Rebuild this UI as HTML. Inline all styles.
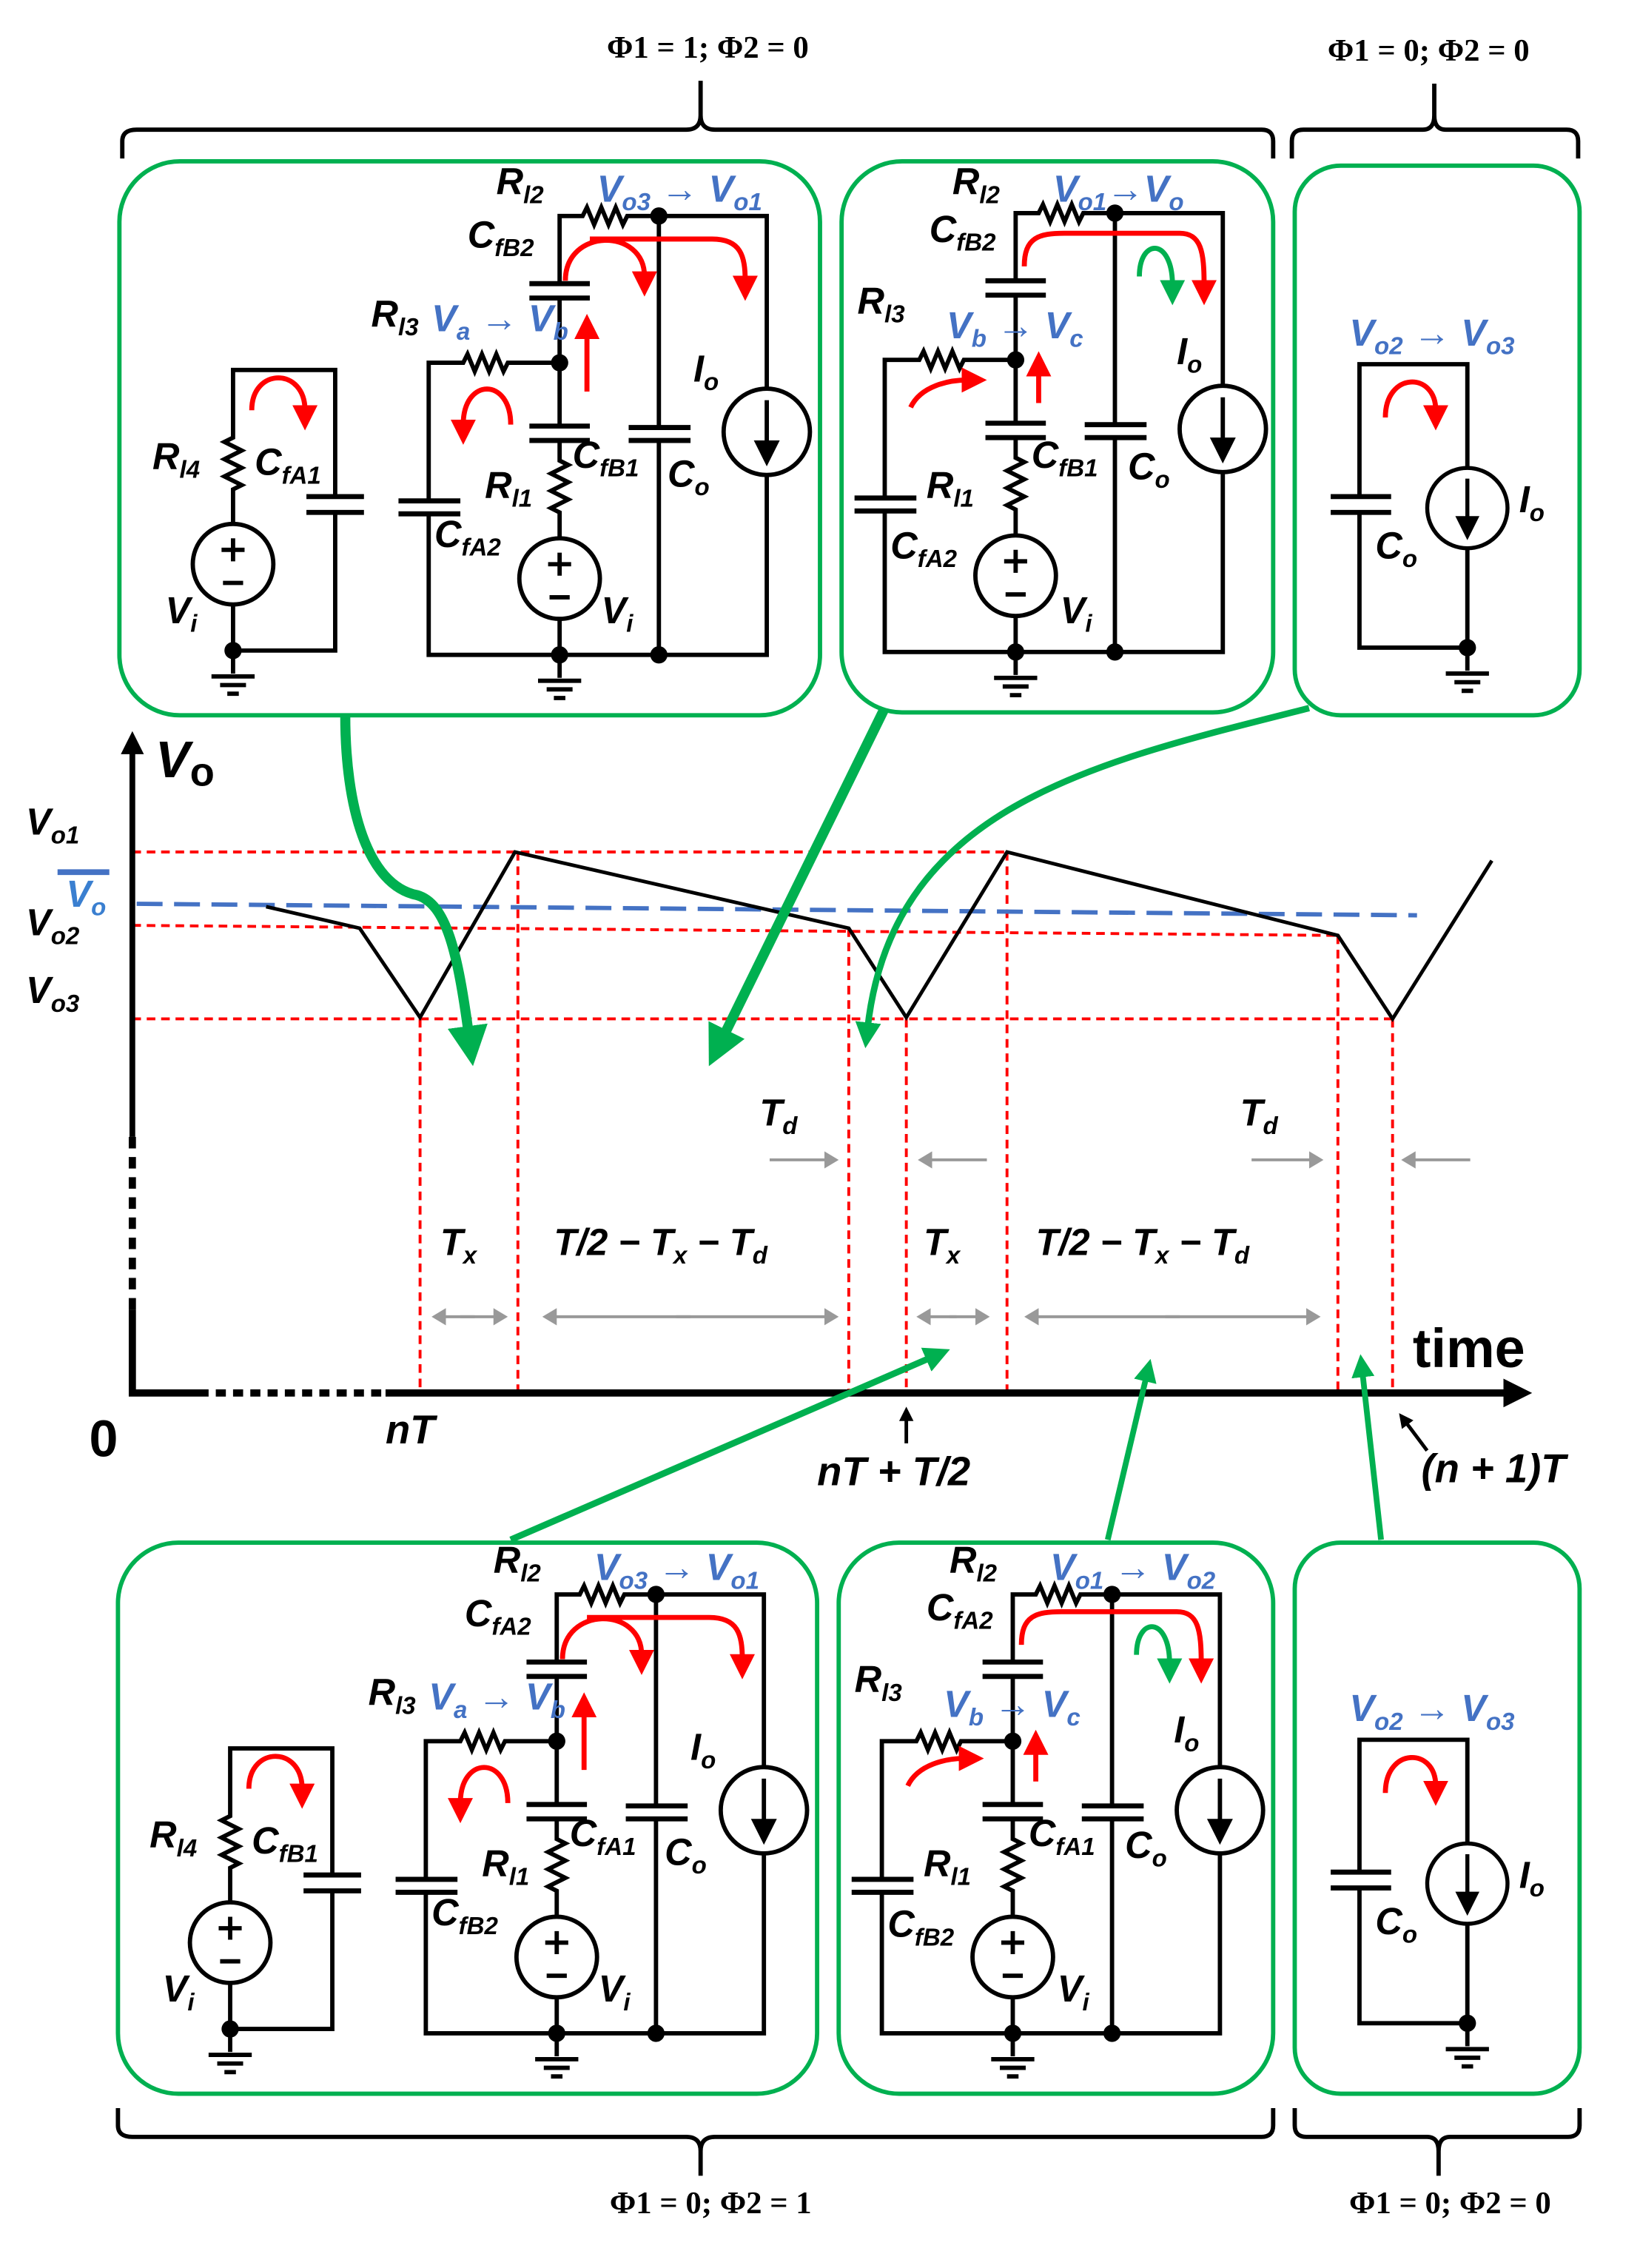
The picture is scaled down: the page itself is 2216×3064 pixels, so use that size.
<!DOCTYPE html>
<html><head><meta charset="utf-8"><style>
html,body{margin:0;padding:0;background:#fff}
svg{display:block}
.w{fill:none;stroke:#000;stroke-width:3}
.p{stroke:#000;stroke-width:3.5}
.l{font-family:"Liberation Sans",sans-serif;font-weight:bold;font-style:italic;font-size:26px;fill:#000}
.b{fill:#4472c4}
.s{font-size:17px}
.ph{font-family:"Liberation Serif",serif;font-weight:bold;font-size:22px}
.gb{fill:none;stroke:#00b050;stroke-width:3}
.ra{fill:none;stroke:#f00;stroke-width:3.5}
.ga{fill:none;stroke:#00b050;stroke-width:3.5}
.rd{fill:none;stroke:#f00;stroke-width:2;stroke-dasharray:6,4}
.gr{fill:none;stroke:#999;stroke-width:2}
</style></head><body>
<svg width="2216" height="3064" viewBox="0 0 1140 1576" xmlns="http://www.w3.org/2000/svg">
<defs>
<marker id="mr" markerWidth="5" markerHeight="5" refX="1" refY="2.5" orient="auto" markerUnits="strokeWidth"><path d="M0,0 L5,2.5 L0,5z" fill="#f00"/></marker>
<marker id="mg" markerWidth="5" markerHeight="5" refX="1" refY="2.5" orient="auto" markerUnits="strokeWidth"><path d="M0,0 L5,2.5 L0,5z" fill="#00b050"/></marker>
<marker id="mG" markerWidth="4" markerHeight="4" refX="1" refY="2" orient="auto" markerUnits="strokeWidth"><path d="M0,0 L4,2 L0,4z" fill="#00b050"/></marker>
<marker id="mgr" markerWidth="5" markerHeight="6" refX="1" refY="3" orient="auto" markerUnits="strokeWidth"><path d="M0,0 L5,3 L0,6z" fill="#999"/></marker>
<marker id="mk" markerWidth="4" markerHeight="4" refX="1" refY="2" orient="auto" markerUnits="strokeWidth"><path d="M0,0 L4,2 L0,4z" fill="#000"/></marker>
<g id="gnd"><path class="w" d="M0,0 V16 M-15,18 H15 M-9,24 H9 M-4,30 H4"/></g>
<g id="vs"><circle r="28" class="w" fill="#fff"/><path class="w" d="M-8,-10 H8 M0,-18 V-2 M-7,13 H7"/></g>
<g id="cs"><circle r="30" class="w" fill="#fff"/><path class="w" d="M0,-22 V10"/><path d="M-9,6 H9 L0,24z" fill="#000"/></g>
<g id="left">
<path class="w" d="M162,364 V340 l6,-3 l-12,-6 l12,-6 l-12,-6 l12,-6 l-12,-6 l6,-3 V257 H233 V345 M233,356 V452 H162 V420"/>
<path class="p" d="M213,345 H253 M213,356 H253"/>
<use href="#vs" x="162" y="392"/>
<circle cx="162" cy="452" r="6"/>
<use href="#gnd" x="162" y="452"/>
</g>
<g id="mid">
<path class="w" d="M298,348 V252 H322 l3,-6 l5,12 l5,-12 l5,12 l5,-12 l5,12 l3,-6 H389 V207 M389,197 V150 H405 l3,-6 l5,12 l5,-12 l5,12 l5,-12 l5,12 l3,-6 H533 V270 M533,330 V455 H298 V357 M389,252 V296 M389,306 V320 l6,3 l-12,6 l12,6 l-12,6 l12,6 l-12,6 l6,3 V374 M389,430 V455 M458,150 V297 M458,306 V455"/>
<path class="p" d="M277,348 H320 M277,357 H320 M368,197 H410 M368,207 H410 M368,296 H410 M368,306 H410 M437,297 H480 M437,306 H480"/>
<use href="#vs" x="389" y="402"/>
<use href="#cs" x="533" y="300"/>
<circle cx="389" cy="252" r="6"/><circle cx="458" cy="150" r="6"/><circle cx="389" cy="455" r="6"/><circle cx="458" cy="455" r="6"/>
<use href="#gnd" x="389" y="455"/>
</g>
<g id="co">
<path class="w" d="M945,345 V253 H1020 V325 M1020,381 V450 H945 V356"/>
<path class="p" d="M925,345 H967 M925,356 H967"/>
<use href="#cs" x="1020" y="353" transform="translate(1020,353) scale(0.93) translate(-1020,-353)"/>
<circle cx="1020" cy="450" r="6"/>
<use href="#gnd" x="1020" y="450"/>
<path class="ra" d="M963,290 C963,258 998,258 998,285" marker-end="url(#mr)"/>
</g>
<g id="ar1">
<path class="ra" d="M175,285 C175,255 212,255 212,285" marker-end="url(#mr)"/>
<path class="ra" d="M355,295 C355,262 322,262 322,295" marker-end="url(#mr)"/>
<path class="ra" d="M408,272 V232" marker-end="url(#mr)"/>
<path class="ra" d="M393,195 C393,158 448,158 448,192" marker-end="url(#mr)"/>
<path class="ra" d="M410,166 H495 C515,166 518,178 518,195" marker-end="url(#mr)"/>
</g>
<g id="ar2">
<path class="ra" d="M633,283 C640,268 660,264 672,264" marker-end="url(#mr)"/>
<path class="ra" d="M722,280 V258" marker-end="url(#mr)"/>
<path class="ra" d="M712,185 C712,165 722,162 740,162 H820 C835,162 837,175 837,198" marker-end="url(#mr)"/>
<path class="ga" d="M792,192 C792,165 815,165 815,198" marker-end="url(#mg)"/>
</g>
</defs>

<rect class="gb" x="83" y="112" width="487" height="385" rx="42"/>
<rect class="gb" x="585" y="112" width="300" height="383" rx="42"/>
<rect class="gb" x="900" y="115" width="198" height="382" rx="32"/>
<rect class="gb" x="82" y="1072" width="486" height="383" rx="42"/>
<rect class="gb" x="583" y="1072" width="302" height="383" rx="42"/>
<rect class="gb" x="900" y="1072" width="198" height="383" rx="32"/>

<path class="w" d="M85,110 V98 Q85,90 95,90 H477 Q487,90 487,80 V56 M487,80 Q487,90 497,90 H877 Q885,90 885,98 V110" stroke-width="2.5"/>
<path class="w" d="M898,110 V98 Q898,90 906,90 H989 Q997,90 997,80 V58 M997,80 Q997,90 1005,90 H1089 Q1097,90 1097,98 V110" stroke-width="2.5"/>
<path class="w" d="M82,1465 V1477 Q82,1485 92,1485 H477 Q487,1485 487,1495 V1512 M487,1495 Q487,1485 497,1485 H877 Q885,1485 885,1477 V1465" stroke-width="2.5"/>
<path class="w" d="M900,1465 V1477 Q900,1485 908,1485 H992 Q1000,1485 1000,1495 V1512 M1000,1495 Q1000,1485 1008,1485 H1090 Q1098,1485 1098,1477 V1465" stroke-width="2.5"/>
<text class="ph" x="492" y="40" text-anchor="middle">Φ1 = 1; Φ2 = 0</text>
<text class="ph" x="993" y="42" text-anchor="middle">Φ1 = 0; Φ2 = 0</text>
<text class="ph" x="494" y="1538" text-anchor="middle">Φ1 = 0; Φ2 = 1</text>
<text class="ph" x="1008" y="1538" text-anchor="middle">Φ1 = 0; Φ2 = 0</text>

<use href="#left"/><use href="#mid"/><use href="#ar1"/>
<use href="#mid" transform="translate(317,-2)"/><use href="#ar2"/>
<use href="#co"/>
<use href="#left" transform="translate(-2,958)"/><use href="#mid" transform="translate(-2,958)"/><use href="#ar1" transform="translate(-2,958)"/>
<use href="#mid" transform="translate(315,958)"/><use href="#ar2" transform="translate(-2,958)"/>
<use href="#co" transform="translate(0,956)"/>

<text class="l" x="345" y="135">R<tspan class="s" dy="6">l2</tspan></text>
<text class="l b" x="415" y="140">V<tspan class="s" dy="6">o3</tspan><tspan dy="-6"> → V</tspan><tspan class="s" dy="6">o1</tspan></text>
<text class="l" x="325" y="172">C<tspan class="s" dy="6">fB2</tspan></text>
<text class="l" x="258" y="227">R<tspan class="s" dy="6">l3</tspan></text>
<text class="l b" x="300" y="230">V<tspan class="s" dy="6">a</tspan><tspan dy="-6"> → V</tspan><tspan class="s" dy="6">b</tspan></text>
<text class="l" x="482" y="265">I<tspan class="s" dy="6">o</tspan></text>
<text class="l" x="106" y="326">R<tspan class="s" dy="6">l4</tspan></text>
<text class="l" x="177" y="330">C<tspan class="s" dy="6">fA1</tspan></text>
<text class="l" x="398" y="325">C<tspan class="s" dy="6">fB1</tspan></text>
<text class="l" x="464" y="338">C<tspan class="s" dy="6">o</tspan></text>
<text class="l" x="337" y="346">R<tspan class="s" dy="6">l1</tspan></text>
<text class="l" x="302" y="380">C<tspan class="s" dy="6">fA2</tspan></text>
<text class="l" x="115" y="433">V<tspan class="s" dy="6">i</tspan></text>
<text class="l" x="418" y="433">V<tspan class="s" dy="6">i</tspan></text>
<text class="l" x="662" y="135">R<tspan class="s" dy="6">l2</tspan></text>
<text class="l b" x="732" y="140">V<tspan class="s" dy="6">o1</tspan><tspan dy="-6">→V</tspan><tspan class="s" dy="6">o</tspan></text>
<text class="l" x="646" y="168">C<tspan class="s" dy="6">fB2</tspan></text>
<text class="l" x="596" y="218">R<tspan class="s" dy="6">l3</tspan></text>
<text class="l b" x="658" y="235">V<tspan class="s" dy="6">b</tspan><tspan dy="-6"> → V</tspan><tspan class="s" dy="6">c</tspan></text>
<text class="l" x="818" y="253">I<tspan class="s" dy="6">o</tspan></text>
<text class="l" x="717" y="325">C<tspan class="s" dy="6">fB1</tspan></text>
<text class="l" x="784" y="333">C<tspan class="s" dy="6">o</tspan></text>
<text class="l" x="644" y="346">R<tspan class="s" dy="6">l1</tspan></text>
<text class="l" x="619" y="388">C<tspan class="s" dy="6">fA2</tspan></text>
<text class="l" x="737" y="433">V<tspan class="s" dy="6">i</tspan></text>
<text class="l b" x="938" y="240">V<tspan class="s" dy="6">o2</tspan><tspan dy="-6"> → V</tspan><tspan class="s" dy="6">o3</tspan></text>
<text class="l" x="956" y="388">C<tspan class="s" dy="6">o</tspan></text>
<text class="l" x="1056" y="356">I<tspan class="s" dy="6">o</tspan></text>

<text class="l" x="343" y="1093">R<tspan class="s" dy="6">l2</tspan></text>
<text class="l b" x="413" y="1098">V<tspan class="s" dy="6">o3</tspan><tspan dy="-6"> → V</tspan><tspan class="s" dy="6">o1</tspan></text>
<text class="l" x="323" y="1130">C<tspan class="s" dy="6">fA2</tspan></text>
<text class="l" x="256" y="1185">R<tspan class="s" dy="6">l3</tspan></text>
<text class="l b" x="298" y="1188">V<tspan class="s" dy="6">a</tspan><tspan dy="-6"> → V</tspan><tspan class="s" dy="6">b</tspan></text>
<text class="l" x="480" y="1223">I<tspan class="s" dy="6">o</tspan></text>
<text class="l" x="104" y="1284">R<tspan class="s" dy="6">l4</tspan></text>
<text class="l" x="175" y="1288">C<tspan class="s" dy="6">fB1</tspan></text>
<text class="l" x="396" y="1283">C<tspan class="s" dy="6">fA1</tspan></text>
<text class="l" x="462" y="1296">C<tspan class="s" dy="6">o</tspan></text>
<text class="l" x="335" y="1304">R<tspan class="s" dy="6">l1</tspan></text>
<text class="l" x="300" y="1338">C<tspan class="s" dy="6">fB2</tspan></text>
<text class="l" x="113" y="1391">V<tspan class="s" dy="6">i</tspan></text>
<text class="l" x="416" y="1391">V<tspan class="s" dy="6">i</tspan></text>
<text class="l" x="660" y="1093">R<tspan class="s" dy="6">l2</tspan></text>
<text class="l b" x="730" y="1098">V<tspan class="s" dy="6">o1</tspan><tspan dy="-6"> → V</tspan><tspan class="s" dy="6">o2</tspan></text>
<text class="l" x="644" y="1126">C<tspan class="s" dy="6">fA2</tspan></text>
<text class="l" x="594" y="1176">R<tspan class="s" dy="6">l3</tspan></text>
<text class="l b" x="656" y="1193">V<tspan class="s" dy="6">b</tspan><tspan dy="-6"> → V</tspan><tspan class="s" dy="6">c</tspan></text>
<text class="l" x="816" y="1211">I<tspan class="s" dy="6">o</tspan></text>
<text class="l" x="715" y="1283">C<tspan class="s" dy="6">fA1</tspan></text>
<text class="l" x="782" y="1291">C<tspan class="s" dy="6">o</tspan></text>
<text class="l" x="642" y="1304">R<tspan class="s" dy="6">l1</tspan></text>
<text class="l" x="617" y="1346">C<tspan class="s" dy="6">fB2</tspan></text>
<text class="l" x="735" y="1391">V<tspan class="s" dy="6">i</tspan></text>
<text class="l b" x="938" y="1196">V<tspan class="s" dy="6">o2</tspan><tspan dy="-6"> → V</tspan><tspan class="s" dy="6">o3</tspan></text>
<text class="l" x="956" y="1344">C<tspan class="s" dy="6">o</tspan></text>
<text class="l" x="1056" y="1312">I<tspan class="s" dy="6">o</tspan></text>

<path class="rd" d="M92,592 H700 M92,643 L930,650 M92,708 H970 M292,708 V968 M360,592 V968 M590,645 V968 M630,708 V968 M700,592 V968 M930,650 V968 M968,708 V968"/>
<path d="M95,628 L985,636" fill="none" stroke="#4472c4" stroke-width="3" stroke-dasharray="18,8"/>
<path d="M185,630 L250,645 L292,707 L358,592 L590,645 L630,707 L700,592 L930,650 L968,708 L1037,598" fill="none" stroke="#000" stroke-width="2.5"/>
<path d="M92,790 V520" stroke="#000" stroke-width="4" marker-end="url(#mk)"/>
<path d="M92,790 V910" stroke="#000" stroke-width="5" stroke-dasharray="8,6"/>
<path d="M92,910 V968 H145" stroke="#000" stroke-width="5" fill="none"/>
<path d="M150,968 H268" stroke="#000" stroke-width="5" stroke-dasharray="7,5"/>
<path d="M268,968 H1050" stroke="#000" stroke-width="5" marker-end="url(#mk)"/>
<text class="l" x="108" y="540" style="font-size:36px;font-style:italic">V<tspan style="font-size:28px;font-style:normal" dy="6">o</tspan></text>
<text class="l" x="18" y="580">V<tspan class="s" dy="6">o1</tspan></text>
<path d="M40,606 H76" stroke="#4472c4" stroke-width="4"/>
<text class="l b" x="46" y="630" style="fill:#3a7fd0">V<tspan class="s" dy="6">o</tspan></text>
<text class="l" x="18" y="650">V<tspan class="s" dy="6">o2</tspan></text>
<text class="l" x="18" y="697">V<tspan class="s" dy="6">o3</tspan></text>
<text class="l" x="528" y="782">T<tspan class="s" dy="6">d</tspan></text>
<text class="l" x="862" y="782">T<tspan class="s" dy="6">d</tspan></text>
<text class="l" x="306" y="872">T<tspan class="s" dy="6">x</tspan></text>
<text class="l" x="385" y="872">T/2 − T<tspan class="s" dy="6">x</tspan><tspan dy="-6"> − T</tspan><tspan class="s" dy="6">d</tspan></text>
<text class="l" x="642" y="872">T<tspan class="s" dy="6">x</tspan></text>
<text class="l" x="720" y="872">T/2 − T<tspan class="s" dy="6">x</tspan><tspan dy="-6"> − T</tspan><tspan class="s" dy="6">d</tspan></text>
<g class="gr">
<path d="M535,806 H575" marker-end="url(#mgr)"/><path d="M686,806 H646" marker-end="url(#mgr)"/>
<path d="M870,806 H912" marker-end="url(#mgr)"/><path d="M1022,806 H982" marker-end="url(#mgr)"/>
<path d="M320,915 H345" marker-end="url(#mgr)"/><path d="M330,915 H308" marker-end="url(#mgr)"/>
<path d="M470,915 H575" marker-end="url(#mgr)"/><path d="M480,915 H385" marker-end="url(#mgr)"/>
<path d="M660,915 H680" marker-end="url(#mgr)"/><path d="M665,915 H645" marker-end="url(#mgr)"/>
<path d="M810,915 H910" marker-end="url(#mgr)"/><path d="M820,915 H720" marker-end="url(#mgr)"/>
</g>
<text class="l" x="982" y="950" style="font-style:normal;font-size:38px">time</text>
<text class="l" x="62" y="1012" style="font-style:normal;font-size:36px">0</text>
<text class="l" x="268" y="1003" style="font-size:28px">nT</text>
<text class="l" x="568" y="1032" style="font-size:28px">nT + T/2</text>
<text class="l" x="988" y="1030" style="font-size:28px">(n + 1)T</text>
<path d="M630,1003 V985" stroke="#000" stroke-width="2.5" marker-end="url(#mk)"/>
<path d="M992,1008 L977,988" stroke="#000" stroke-width="2.5" marker-end="url(#mk)"/>

<path d="M240,497 C240,560 255,615 290,622 C310,628 318,660 326,720" fill="none" stroke="#00b050" stroke-width="7" marker-end="url(#mG)"/>
<path d="M615,492 L502,722" fill="none" stroke="#00b050" stroke-width="7" marker-end="url(#mG)"/>
<path d="M910,492 C760,530 620,560 603,715" fill="none" stroke="#00b050" stroke-width="4.5" marker-end="url(#mG)"/>
<path d="M355,1070 L648,943" fill="none" stroke="#00b050" stroke-width="4.5" marker-end="url(#mG)"/>
<path d="M770,1070 L797,956" fill="none" stroke="#00b050" stroke-width="4" marker-end="url(#mG)"/>
<path d="M960,1070 L947,953" fill="none" stroke="#00b050" stroke-width="4" marker-end="url(#mG)"/>
</svg>
</body></html>
